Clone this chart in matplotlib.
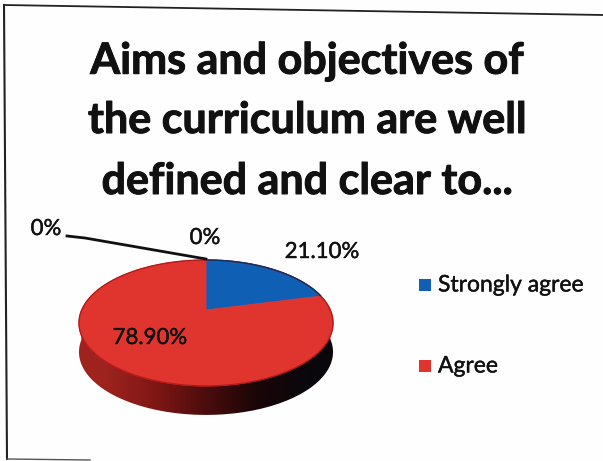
"""Pie chart of curriculum survey answers, tilted like the 3d original
"""

import matplotlib
matplotlib.use('Agg')
import matplotlib.pyplot as plt
import matplotlib.patheffects as pe
import numpy as np
from matplotlib.patches import PathPatch, Rectangle
from matplotlib.path import Path

categories = ['Strongly agree', 'Agree', 'Disagree', 'Strongly disagree']
values = [21.10, 78.90, 0, 0]
value_labels = ['21.10%', '78.90%', '0%', '0%']
title_lines = ['Aims and objectives of', 'the curriculum are well', 'defined and clear to...']
colors = ['#0f5fb4', '#e0352f']

W, H = 603, 461
CX, CY = 206, 310


def tilt(v, drop=0):
    #perspective squash of the unit circle pie, result in pixels
    q = 0.206
    x, y = v[:, 0], v[:, 1]
    d = 1 + q * y
    return np.column_stack([CX + 124.3 * x / d, CY + drop - 60.3 * y / d])


plt.rcParams['font.family'] = ['Lato', 'DejaVu Sans']
fig = plt.figure(figsize=(W / 100, H / 100), dpi=100, facecolor='#fefefe')
ax = fig.add_axes([0, 0, 1, 1])

wedges, _ = ax.pie(values[:2], startangle=90, counterclock=False, radius=1)
ax.set_aspect('auto')
ax.axis('off')

#side of the disc, clipped gradient from dark red to black
t = np.linspace(0, 2 * np.pi, 200)
circle = np.column_stack([np.cos(t), np.sin(t)])
lower = circle[circle[:, 1] <= 0.0]
lower = lower[np.argsort(lower[:, 0])]
side = np.vstack([tilt(lower), tilt(lower, drop=29)[::-1]])
side_patch = PathPatch(Path(np.vstack([side, side[:1]])), fc='none', ec='none')
ax.add_patch(side_patch)
shade = np.array([[0.62, 0.14, 0.12], [0.50, 0.09, 0.08], [0.30, 0.05, 0.05],
                  [0.10, 0.02, 0.03], [0.04, 0.03, 0.05]])
img = ax.imshow(shade[np.newaxis, :, :], extent=[79, 333, H, 0], aspect='auto',
                interpolation='bilinear', zorder=1)
img.set_clip_path(side_patch)
ax.set_xlim(0, W)
ax.set_ylim(H, 0)

#top of the disc, made from the pie wedges
for w, c in zip(wedges, colors):
    p = w.get_path()
    w.remove()
    ax.add_patch(PathPatch(Path(tilt(p.vertices), p.codes), fc=c, ec=c, lw=0.6, zorder=2))
rim = tilt(circle)
ax.plot(rim[:, 0], rim[:, 1], color='#b51a1a', lw=1.0, zorder=3)
top_arc = tilt(circle[(circle[:, 1] > 0.24) & (circle[:, 0] >= 0)])
ax.plot(top_arc[:, 0], top_arc[:, 1], color='#0c2f6e', lw=1.0, zorder=4)

#frame of the photographed slide
ax.plot([4, 603], [5, 15], color='#222222', lw=1.3)
ax.plot([4, 7], [5, 459], color='#222222', lw=1.5)
ax.plot([7, 90], [459, 460], color='#555555', lw=1.0)

#heavier strokes than lato bold gives, the scan is quite fat
fat = [pe.withStroke(linewidth=0.7, foreground='#111111')]
for line, y in zip(title_lines, [61, 120, 181]):
    ax.text(307, y, line, ha='center', va='center', fontsize=31, fontweight='bold',
            color='#111111', path_effects=fat)

thin = [pe.withStroke(linewidth=0.3, foreground='#111111')]
ax.plot([67, 85, 206], [236, 238, 259], color='#111111', lw=2, zorder=5)
ax.text(46, 229, value_labels[2], ha='center', va='center', fontsize=16, color='#111111', path_effects=thin)
ax.text(205, 238, value_labels[3], ha='center', va='center', fontsize=16, color='#111111', path_effects=thin)
ax.text(322, 252, value_labels[0], ha='center', va='center', fontsize=16, color='#111111', path_effects=thin)
ax.text(150, 338, value_labels[1], ha='center', va='center', fontsize=16, color='#111111', zorder=6, path_effects=thin)

#legend, only the two answers anyone gave
for name, c, y in zip(categories[:2], colors, [285, 366]):
    ax.add_patch(Rectangle((419, y - 6), 12, 12, fc=c, ec='none'))
    ax.text(438, y, name, ha='left', va='center', fontsize=16.5, color='#111111', path_effects=thin)

plt.savefig('out.png', dpi=100)
